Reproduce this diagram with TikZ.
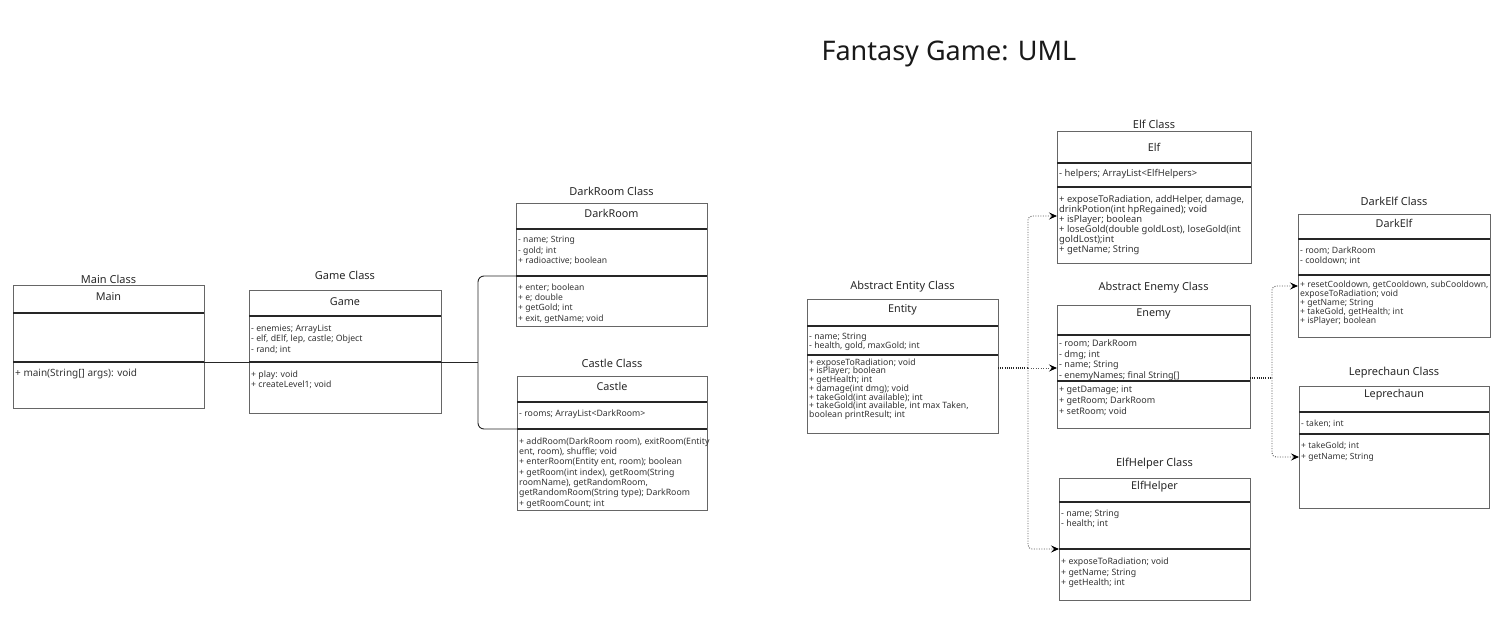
\documentclass[tikz,border=0pt]{standalone}
\usepackage{fontspec}
\setmainfont{Noto Sans}
\usetikzlibrary{arrows.meta,calc,positioning}

\begin{document}
\begin{tikzpicture}[x=1pt,y=-1pt,
  umlbox/.style={draw=black!60, line width=0.9pt, anchor=north west, inner sep=0pt, outer sep=0pt},
  divline/.style={line width=1.6pt, black!85},
  clstitle/.style={font=\fontsize{11}{13}\selectfont, text=black!85},
  clshead/.style={font=\fontsize{10.8}{13}\selectfont, text=black!85},
  memb/.style 2 args={align=left, inner sep=0pt, text=black!80, font=\fontsize{#1}{#2}\selectfont},
  link/.style={line width=0.9pt, black!85},
  depstub/.style={line width=1.1pt, black!85, dash pattern=on 1pt off 1.2pt},
  dep/.style={line width=0.9pt, black!65, dash pattern=on 1pt off 1.5pt, rounded corners=4pt, -{Stealth[length=8pt,width=7pt,inset=3pt,black]}}]
\useasboundingbox (0,0) rectangle (1499,617);

\node[anchor=base west, font=\fontsize{27}{30}\selectfont, text=black!90] (title) at (818,61) {Fantasy Game: UML};

\foreach \n/\xa/\ya/\xb/\yb/\da/\db/\ty/\hy/\ttl/\hd in {%
  main/13/285/204/408/313/362/279/297/Main Class/Main,%
  game/249/290/441/413/316/362/275/302/Game Class/Game,%
  darkroom/516/203/707/326/229/276/191/213/DarkRoom Class/DarkRoom,%
  castle/517/376/707/510/402/429/363/386/Castle Class/Castle,%
  entity/807/299/998/433/326/355/287/310/Abstract Entity Class/Entity,%
  elf/1057/131/1251/263/163/187/124/147/Elf Class/Elf,%
  enemy/1057/305/1250/428/335/381/288/314/Abstract Enemy Class/Enemy,%
  elfhelper/1059/478/1250/600/502/549/464/487/ElfHelper Class/ElfHelper,%
  darkelf/1298/214/1490/337/239/275/201/223/DarkElf Class/DarkElf,%
  leprechaun/1299/386/1489/508/412/434/373/395/Leprechaun Class/Leprechaun}{
  \node[umlbox, minimum width={(\xb-\xa)*1pt}, minimum height={(\yb-\ya)*1pt}] (\n) at (\xa,\ya) {};
  \draw[divline] (\xa,\da) coordinate (\n-a) -- (\xb,\da);
  \draw[divline] (\xa,\db) coordinate (\n-b) -- (\xb,\db);
  \node[clstitle] (\n-t) at ({(\xa+\xb)/2},\ty) {\ttl};
  \node[clshead] (\n-h) at ({(\xa+\xb)/2},\hy) {\hd};
}

\node[memb={10}{10}, below right=7pt and 2pt of main-b] (main-m) {+ main(String[] args): void};

\node[memb={8.7}{10.5}, below right=8.4pt and 2pt of game-a] (game-f) {- enemies; ArrayList\\- elf, dElf, lep, castle; Object\\- rand; int};
\node[memb={8.7}{10.5}, below right=8.4pt and 2pt of game-b] (game-m) {+ play: void\\+ createLevel1; void};

\node[memb={8.6}{10.2}, below right=7.4pt and 2pt of darkroom-a] (darkroom-f) {- name; String\\- gold; int\\+ radioactive; boolean};
\node[memb={8.6}{10.3}, below right=7.4pt and 2pt of darkroom-b] (darkroom-m) {+ enter; boolean\\+ e; double\\+ getGold; int\\+ exit, getName; void};

\node[memb={8.75}{10.3}, below right=7.4pt and 2pt of castle-a] (castle-f) {- rooms; ArrayList<DarkRoom>};
\node[memb={8.75}{10.3}, below right=8.4pt and 2pt of castle-b] (castle-m) {+ addRoom(DarkRoom room), exitRoom(Entity\\ent, room), shuffle; void\\+ enterRoom(Entity ent, room); boolean\\+ getRoom(int index), getRoom(String\\roomName), getRandomRoom,\\getRandomRoom(String type); DarkRoom\\+ getRoomCount; int};

\node[memb={8.7}{9.3}, below right=6.4pt and 2pt of entity-a] (entity-f) {- name; String\\- health, gold, maxGold; int};
\node[memb={8.7}{8.7}, below right=3.4pt and 2pt of entity-b] (entity-m) {+ exposeToRadiation; void\\+ isPlayer; boolean\\+ getHealth; int\\+ damage(int dmg); void\\+ takeGold(int available); int\\+ takeGold(int available, int max Taken,\\boolean printResult; int};

\node[memb={9.4}{10.1}, below right=6pt and 2pt of elf-a] (elf-f) {- helpers; ArrayList<ElfHelpers>};
\node[memb={9.4}{10.1}, below right=8pt and 2pt of elf-b] (elf-m) {+ exposeToRadiation, addHelper, damage,\\drinkPotion(int hpRegained); void\\+ isPlayer; boolean\\+ loseGold(double goldLost), loseGold(int\\goldLost);int\\+ getName; String};

\node[memb={9}{10.7}, below right=4.3pt and 2pt of enemy-a] (enemy-f) {- room; DarkRoom\\- dmg; int\\- name; String\\- enemyNames; final String[]};
\node[memb={9}{11}, below right=4.3pt and 2pt of enemy-b] (enemy-m) {+ getDamage; int\\+ getRoom; DarkRoom\\+ setRoom; void};

\node[memb={8.8}{10.3}, below right=7.4pt and 2pt of elfhelper-a] (elfhelper-f) {- name; String\\- health; int};
\node[memb={8.8}{10.8}, below right=8.4pt and 2pt of elfhelper-b] (elfhelper-m) {+ exposeToRadiation; void\\+ getName; String\\+ getHealth; int};

\node[memb={8.7}{10}, below right=7.4pt and 2pt of darkelf-a] (darkelf-f) {- room; DarkRoom\\- cooldown; int};
\node[memb={8.6}{9}, below right=5.4pt and 2pt of darkelf-b] (darkelf-m) {+ resetCooldown, getCooldown, subCooldown,\\exposeToRadiation; void\\+ getName; String\\+ takeGold, getHealth; int\\+ isPlayer; boolean};

\node[memb={8.5}{11}, below right=7.4pt and 2pt of leprechaun-a] (leprechaun-f) {- taken; int};
\node[memb={8.5}{11}, below right=7.4pt and 2pt of leprechaun-b] (leprechaun-m) {+ takeGold; int\\+ getName; String};

\coordinate (brk) at (478,362);
\draw[link] (main.east |- main-b) -- (game-b);
\draw[link] (game.east |- game-b) -- (brk);
\draw[link, rounded corners=6pt] (darkroom-b) -| (brk) |- (castle-b);

\coordinate (efork) at (1028,368);
\draw[depstub] (entity.east |- efork) -- (efork);
\draw[dep] (efork) |- ($(elf-b)+(0,29)$);
\draw[dep] (efork) -- (enemy.west |- efork);
\draw[dep] (efork) |- (elfhelper-b);

\coordinate (nfork) at (1272,378);
\draw[depstub] (enemy.east |- nfork) -- (nfork);
\draw[dep] (nfork) |- ($(darkelf-b)+(0,11)$);
\draw[dep] (nfork) |- ($(leprechaun-b)+(0,23)$);
\end{tikzpicture}
\end{document}
